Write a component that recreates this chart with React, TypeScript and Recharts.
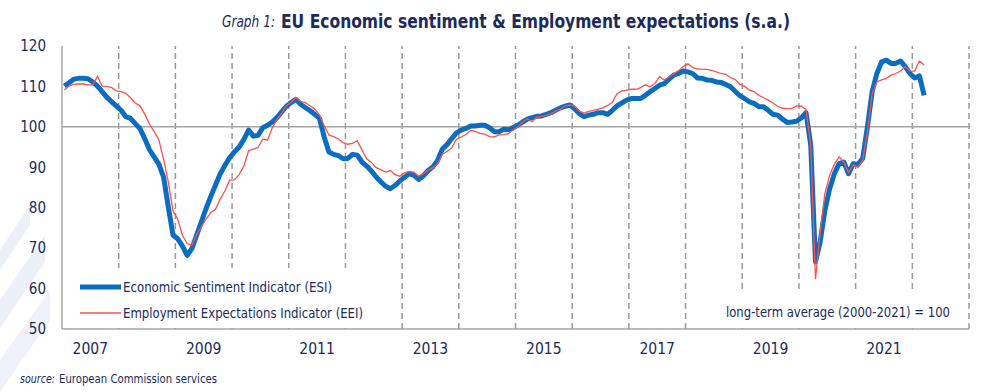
import React from 'react';
import { LineChart, Line, XAxis, YAxis, ReferenceLine } from 'recharts';

// monthly data, Jan 2007 .. Mar 2022
const startYear = 2007;

// Economic Sentiment Indicator (ESI)
const esi = [
  110.1, 110.9, 111.8, 112.0, 112.0, 111.9, 111.1, 110.1, 108.7, 107.3, 106.2, 105.2,
  104.1, 102.5, 102.1, 100.8, 99.6, 97.1, 94.4, 92.6, 90.8, 87.6, 80.2, 73.2,
  72.3, 70.5, 68.2, 69.9, 73.2, 76.5, 79.8, 82.8, 85.6, 88.4, 90.5, 92.4,
  93.8, 95.0, 96.9, 99.2, 97.7, 97.9, 99.8, 100.4, 101.2, 102.3, 103.7, 105.1,
  106.0, 106.8, 105.6, 104.8, 104.0, 103.1, 102.1, 97.5, 93.8, 93.2, 92.9, 92.1,
  92.2, 93.2, 93.0, 91.3, 90.3, 89.1, 87.6, 86.4, 85.3, 84.7, 85.5, 86.6,
  87.5, 88.4, 88.0, 87.0, 87.9, 89.2, 90.1, 91.7, 94.5, 95.6, 97.1, 98.5,
  99.2, 99.6, 100.2, 100.2, 100.4, 100.4, 99.8, 98.8, 98.8, 99.4, 99.3, 99.8,
  100.4, 101.2, 101.9, 102.3, 102.6, 102.7, 103.1, 103.5, 104.1, 104.7, 105.1, 105.4,
  104.5, 103.3, 102.5, 102.9, 103.1, 103.5, 103.5, 103.1, 104.1, 105.2, 105.9, 106.6,
  107.0, 107.0, 107.0, 107.8, 108.7, 109.5, 110.3, 110.7, 111.8, 112.8, 113.2, 113.8,
  113.6, 113.2, 112.1, 112.0, 111.6, 111.5, 111.1, 111.0, 110.5, 109.9, 108.8, 107.7,
  107.0, 106.2, 105.8, 105.0, 105.0, 104.1, 103.1, 102.9, 101.9, 101.1, 101.2, 101.4,
  102.2, 103.5, 95.5, 66.6, 71.6, 79.4, 84.7, 88.4, 90.9, 91.3, 88.4, 90.9,
  90.7, 92.2, 100.0, 108.7, 113.2, 116.1, 116.5, 115.7, 115.7, 116.3, 114.9, 113.2,
  112.1, 112.6, 107.8,
];

// Employment Expectations Indicator (EEI)
const eei = [
  109.2, 110.1, 110.5, 110.6, 110.6, 110.4, 110.4, 112.5, 110.1, 110.0, 109.7, 108.9,
  108.7, 108.3, 107.2, 105.9, 105.2, 103.2, 100.7, 98.8, 96.8, 92.0, 86.4, 79.2,
  77.2, 73.2, 71.1, 70.7, 73.4, 75.2, 77.2, 78.8, 79.6, 82.2, 84.2, 86.8,
  86.9, 88.2, 90.3, 94.1, 94.5, 94.9, 97.0, 96.7, 99.7, 101.8, 103.4, 105.2,
  106.0, 107.3, 106.3, 106.0, 105.2, 104.4, 103.0, 100.3, 98.0, 97.6, 97.0, 96.1,
  95.7, 95.9, 96.6, 94.3, 92.1, 91.2, 89.9, 89.4, 88.8, 89.2, 88.2, 87.8,
  88.6, 89.0, 88.8, 87.8, 88.4, 89.3, 89.9, 90.8, 93.2, 93.9, 94.8, 96.9,
  97.5, 98.1, 99.1, 98.9, 98.4, 98.2, 97.6, 97.5, 98.0, 98.1, 98.3, 99.2,
  100.0, 101.2, 102.0, 101.3, 102.4, 102.6, 102.8, 103.2, 103.9, 104.4, 105.2, 105.4,
  105.2, 103.9, 103.4, 103.8, 104.1, 104.4, 104.7, 105.3, 106.1, 108.2, 108.9, 109.1,
  109.3, 109.3, 109.7, 110.4, 109.9, 110.7, 112.4, 111.6, 112.4, 113.1, 113.9, 114.9,
  115.6, 114.7, 114.3, 114.3, 114.2, 114.0, 113.6, 113.2, 113.0, 112.2, 111.7, 110.5,
  110.0, 109.1, 108.7, 107.8, 107.2, 106.6, 105.9, 105.1, 104.6, 104.5, 104.5, 105.2,
  105.1, 104.3, 95.5, 62.3, 74.0, 83.6, 88.0, 90.8, 92.6, 91.3, 88.7, 90.6,
  90.0, 91.7, 98.8, 108.3, 111.1, 111.6, 112.0, 112.8, 113.2, 113.8, 114.9, 113.8,
  113.8, 116.3, 115.3,
];

const yearLabels = [2007, 2009, 2011, 2013, 2015, 2017, 2019, 2021];
const yearBreaks = [2008, 2009, 2010, 2011, 2012, 2013, 2014, 2015, 2016, 2017, 2018, 2019, 2020, 2021, 2022, 2023];
const yTicks = [50, 60, 70, 80, 90, 100, 110, 120];

// points sit in the middle of their month
const data = esi.map((v, i) => ({
  month: `${startYear + Math.floor(i / 12)}-${String((i % 12) + 1).padStart(2, '0')}`,
  t: startYear + (i + 0.5) / 12,
  esi: v,
  eei: eei[i],
}));

const NAVY = '#1c2a5e';
const BLUE = '#0b6dbf';
const RED = '#ff4f4f';
const GREY = '#a6a6a6';
const NARROW = '"Liberation Sans Narrow", "DejaVu Sans Condensed", "Liberation Sans", sans-serif';

export default function App() {
  return (
    <div style={{ position: 'absolute', left: 0, top: 0, width: 992, height: 392, background: '#fff', overflow: 'hidden' }}>
      {/* faint decoration on the left */}
      <svg width={992} height={392} style={{ position: 'absolute', left: 0, top: 0 }}>
        <polygon points="0,250 30,205 30,225 0,270" fill="#eef0f8" />
        <polygon points="0,300 45,235 45,262 0,328" fill="#eef0f8" />
        <polygon points="0,360 50,290 50,320 0,392" fill="#f1f2f9" />
      </svg>

      <div style={{ position: 'absolute', left: 0, top: 0 }}>
        <LineChart width={992} height={392} data={data} margin={{ top: 46, right: 23, bottom: 33, left: 17 }}>
          <XAxis
            dataKey="t"
            type="number"
            domain={[2007, 2023]}
            ticks={yearLabels.map((y) => y + 0.5)}
            tickFormatter={(v: number) => String(Math.floor(v))}
            height={30}
            tickLine={false}
            tickSize={0}
            tickMargin={14}
            axisLine={{ stroke: GREY, strokeWidth: 1.5 }}
            tick={{ fill: NAVY, fontSize: 15.5, fontFamily: NARROW }}
            allowDataOverflow
          />
          <YAxis
            domain={[50, 120]}
            ticks={yTicks}
            width={45}
            tickLine={false}
            tickSize={0}
            tickMargin={16}
            axisLine={{ stroke: GREY, strokeWidth: 1.5 }}
            tick={{ fill: NAVY, fontSize: 15, fontFamily: NARROW }}
          />
          {yearBreaks.map((y) => (
            <ReferenceLine key={y} x={y} stroke="#9a9a9a" strokeWidth={1.5} strokeDasharray="6 4" />
          ))}
          <ReferenceLine y={100} stroke={GREY} strokeWidth={1.5} />
          <Line
            type="linear"
            dataKey="esi"
            stroke={BLUE}
            strokeWidth={5}
            strokeLinejoin="round"
            dot={false}
            isAnimationActive={false}
          />
          <Line
            type="linear"
            dataKey="eei"
            stroke={RED}
            strokeWidth={1.3}
            dot={false}
            isAnimationActive={false}
          />
        </LineChart>
      </div>

      {/* title, legend and notes */}
      <svg width={992} height={392} style={{ position: 'absolute', left: 0, top: 0, pointerEvents: 'none' }}>
        <text x={222} y={27} fill={NAVY} fontFamily={NARROW} fontStyle="italic" fontSize={15} textLength={53} lengthAdjust="spacingAndGlyphs">
          Graph 1:
        </text>
        <text x={281} y={28} fill={NAVY} fontFamily={NARROW} fontWeight="bold" fontSize={19} textLength={509} lengthAdjust="spacingAndGlyphs">
          EU Economic sentiment &amp; Employment expectations (s.a.)
        </text>

        <rect x={63} y={268} width={303} height={60} fill="#fff" />
        <line x1={80} y1={287} x2={121} y2={287} stroke={BLUE} strokeWidth={5} />
        <text x={123} y={292} fill={NAVY} fontFamily={NARROW} fontSize={14} textLength={209} lengthAdjust="spacingAndGlyphs">
          Economic Sentiment Indicator (ESI)
        </text>
        <line x1={80} y1={313} x2={121} y2={313} stroke={RED} strokeWidth={1.3} />
        <text x={123} y={318} fill={NAVY} fontFamily={NARROW} fontSize={14} textLength={240} lengthAdjust="spacingAndGlyphs">
          Employment Expectations Indicator (EEI)
        </text>

        <rect x={722} y={293} width={234} height={35} fill="#fff" />
        <text x={726} y={317} fill={NAVY} fontFamily={NARROW} fontSize={14} textLength={224} lengthAdjust="spacingAndGlyphs">
          long-term average (2000-2021) = 100
        </text>

        <text x={20} y={383} fill={NAVY} fontFamily={NARROW} fontStyle="italic" fontSize={12} textLength={35} lengthAdjust="spacingAndGlyphs">
          source:
        </text>
        <text x={59} y={383} fill={NAVY} fontFamily={NARROW} fontSize={12} textLength={158} lengthAdjust="spacingAndGlyphs">
          European Commission services
        </text>
      </svg>
    </div>
  );
}
